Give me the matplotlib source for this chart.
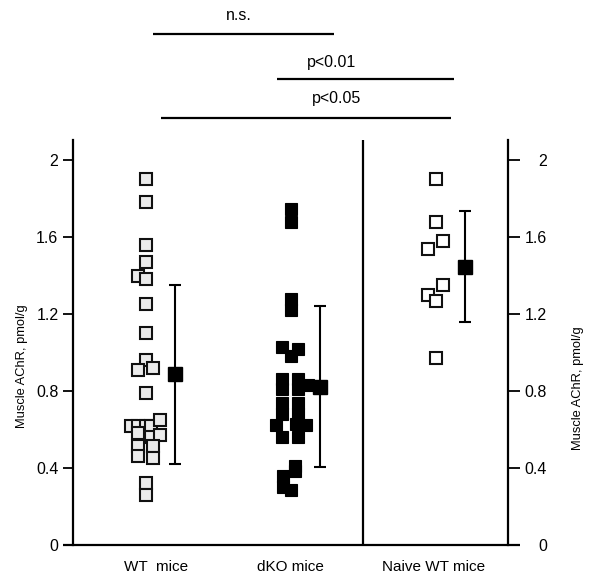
import matplotlib
matplotlib.use("Agg")
import matplotlib.pyplot as plt
import numpy as np

plt.rcParams["font.family"] = ["Liberation Sans", "DejaVu Sans"]

# group positions (x units) and labels
groups = ["WT  mice", "dKO mice", "Naive WT mice"]
group_x = [1, 2, 3]
label_x = [1.07, 2.0, 2.99]

# individual values (pmol/g) with small horizontal offsets as in the figure
wt_vals = [1.90, 1.78, 1.56, 1.47, 1.40, 1.38, 1.25, 1.10, 0.96, 0.91, 0.92, 0.79,
           0.62, 0.62, 0.62, 0.62, 0.65, 0.58, 0.56, 0.57, 0.515, 0.515, 0.46, 0.45,
           0.32, 0.26]
wt_off = [0, 0, 0, 0, -0.055, 0, 0, 0, 0, -0.055, 0.055, 0,
          -0.097, -0.055, 0, 0.04, 0.10, -0.055, 0.035, 0.10, -0.055, 0.055, -0.055, 0.05,
          0, 0]

dko_vals = [1.745, 1.68, 1.28, 1.22, 1.03, 1.02, 0.98, 0.86, 0.86, 0.81, 0.81, 0.83,
            0.74, 0.74, 0.68, 0.68, 0.625, 0.625, 0.63, 0.56, 0.56,
            0.41, 0.385, 0.36, 0.30, 0.285]
dko_off = [0, 0, 0, 0, -0.06, 0.05, 0, -0.06, 0.05, -0.06, 0.05, 0.12,
           -0.06, 0.05, -0.06, 0.05, -0.10, 0.11, 0.04, -0.06, 0.05,
           0.03, 0.03, -0.05, -0.05, 0]

naive_vals = [1.90, 1.68, 1.58, 1.54, 1.35, 1.30, 1.27, 0.97]
naive_off = [0, 0, 0.05, -0.05, 0.05, -0.05, 0, 0]

# group means and error bar limits
means = [0.89, 0.82, 1.445]
err_low = [0.42, 0.405, 1.16]
err_high = [1.35, 1.24, 1.735]
mean_off = 0.2

# significance brackets: x start, x end, y, label
brackets = [
    (1.05, 2.30, 2.655, "n.s."),
    (1.907, 3.131, 2.421, "p<0.01"),
    (1.104, 3.11, 2.218, "p<0.05"),
]
bracket_text_x = [1.644, 2.28, 2.315]
bracket_text_y = [2.753, 2.509, 2.317]

yticks = [0, 0.4, 0.8, 1.2, 1.6, 2.0]
yticklabels = ["0", "0.4", "0.8", "1.2", "1.6", "2"]

fig = plt.figure(figsize=(6.01, 5.84), dpi=100)
ax = fig.add_axes([73 / 601, 1 - 545 / 584, 435 / 601, 405 / 584])
ax.set_xlim(0.5, 3.5)
ax.set_ylim(0, 405 / 192.5)

# points
ax.plot(np.array(wt_off) + group_x[0], wt_vals, "s", ms=8, mew=1.5,
        mfc="#ebebeb", mec="#111111", ls="none", zorder=3)
ax.plot(np.array(dko_off) + group_x[1], dko_vals, "s", ms=9.2, mew=0.8,
        mfc="black", mec="black", ls="none", zorder=3)
ax.plot(np.array(naive_off) + group_x[2], naive_vals, "s", ms=8, mew=1.5,
        mfc="white", mec="#111111", ls="none", zorder=3)

# means with error bars
mx = np.array(group_x) + mean_off
m = np.array(means)
ax.errorbar(mx, m, yerr=[m - np.array(err_low), np.array(err_high) - m],
            fmt="s", ms=9.5, mfc="black", mec="black", ecolor="black",
            elinewidth=1.5, capsize=4, capthick=1.5, zorder=4)

# frame
for s in ["top", "right", "bottom"]:
    ax.spines[s].set_visible(False)
ax.spines["left"].set_linewidth(1.6)
ax.plot([-10 / 435, 1 + 12 / 435], [0, 0], transform=ax.transAxes,
        color="black", lw=1.6, clip_on=False, solid_capstyle="butt")
ax.axvline(2.5, color="black", lw=1.6)

ax.set_xticks([])
ax.set_yticks(yticks)
ax.set_yticklabels(yticklabels)
ax.tick_params(axis="y", direction="out", length=7, width=1.3, pad=3.5, labelsize=11.5)

ax2 = ax.twinx()
ax2.set_ylim(ax.get_ylim())
for s in ["top", "left", "bottom"]:
    ax2.spines[s].set_visible(False)
ax2.spines["right"].set_linewidth(1.6)
ax2.set_yticks(yticks)
ax2.set_yticklabels(yticklabels, ha="right")
ax2.tick_params(axis="y", direction="out", length=8.5, width=1.3, pad=19.5, labelsize=11.5)

# group labels
for gx, g in zip(label_x, groups):
    ax.text(gx, -0.114, g, ha="center", va="center", fontsize=11, clip_on=False)

# significance brackets
for (x0, x1, y, t), tx, ty in zip(brackets, bracket_text_x, bracket_text_y):
    ax.plot([x0, x1], [y, y], color="black", lw=1.6, clip_on=False, solid_capstyle="butt")
    ax.text(tx, ty, t, ha="center", va="center", fontsize=11.5, clip_on=False)

fig.text(22 / 601, 1 - 366 / 584, "Muscle AChR, pmol/g", rotation=90,
         ha="center", va="center", fontsize=9.3)
fig.text(578 / 601, 1 - 388 / 584, "Muscle AChR, pmol/g", rotation=90,
         ha="center", va="center", fontsize=9.3)

fig.savefig("out.png", dpi=100, facecolor="white")
